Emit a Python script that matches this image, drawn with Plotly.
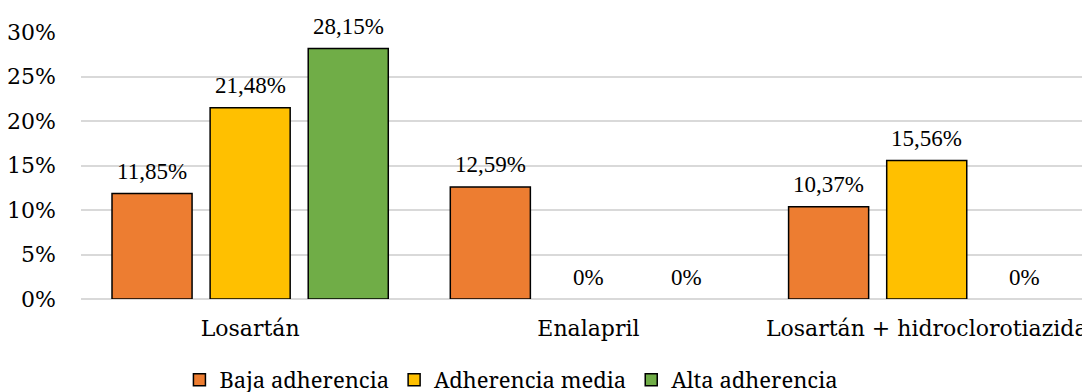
import plotly.graph_objects as go

# Antihypertensive drug groups and adherence levels (share of patients)
categories = ["Losartán", "Enalapril", "Losartán + hidroclorotiazida"]
series_names = ["Baja adherencia", "Adherencia media", "Alta adherencia"]
baja = [0.1185, 0.1259, 0.1037]
media = [0.2148, 0.0, 0.1556]
alta = [0.2815, 0.0, 0.0]
series_colors = ["#ED7D31", "#FFC000", "#70AD47"]

TICK_FONT = "DejaVu Serif"
LEGEND_FONT = "Noto Serif"
LABEL_FONT = "serif"

# Geometry of the plotting area and bar grouping
W, H = 1082, 392
MARGIN = dict(l=81, r=0, t=32, b=93)
X_RANGE = [-0.5, 2.459]
BARGAP = 0.13
BARGROUPGAP = 0.184


def pct_label(v):
    s = f"{v * 100:.2f}".replace(".", ",")
    if v == 0:
        s = "0"
    return s + "%"


series = [baja, media, alta]
n_series = len(series)
px_per_cat = (W - MARGIN["l"] - MARGIN["r"]) / (X_RANGE[1] - X_RANGE[0])
slot_px = (1 - BARGAP) * px_per_cat / n_series

fig = go.Figure()
annotations = []
for i, (name, vals, color) in enumerate(zip(series_names, series, series_colors)):
    fig.add_trace(go.Bar(
        x=categories,
        y=vals,
        name=name,
        marker=dict(
            color=color,
            # no outline on empty bars, so nothing shows at zero
            line=dict(color="#000000", width=[1.5 if v > 0 else 0 for v in vals]),
        ),
        hoverinfo="skip",
    ))
    # value labels above each bar of this series
    for cat, v in zip(categories, vals):
        annotations.append(dict(
            x=cat, y=v, xref="x", yref="y",
            text=pct_label(v),
            showarrow=False,
            xshift=(i - (n_series - 1) / 2) * slot_px,
            yshift=22,
            yanchor="middle",
            font=dict(family=LABEL_FONT, size=23, color="#000000"),
        ))

fig.update_layout(
    width=W,
    height=H,
    margin=dict(**MARGIN, autoexpand=False),
    paper_bgcolor="#FFFFFF",
    plot_bgcolor="#FFFFFF",
    barmode="group",
    bargap=BARGAP,
    bargroupgap=BARGROUPGAP,
    showlegend=True,
    legend=dict(
        orientation="h",
        x=0.43, xanchor="center",
        y=-0.303, yanchor="middle",
        font=dict(family=LEGEND_FONT, size=22, color="#000000"),
        itemwidth=30,
        traceorder="normal",
    ),
    annotations=annotations,
)

fig.update_xaxes(
    range=X_RANGE,
    showgrid=False,
    showline=False,
    zeroline=False,
    ticks="",
    ticklabelstandoff=14,
    tickfont=dict(family=TICK_FONT, size=22, color="#000000"),
)
fig.update_yaxes(
    range=[0, 0.30],
    tickvals=[0, 0.05, 0.10, 0.15, 0.20, 0.25, 0.30],
    tickformat=".0%",
    showgrid=True,
    gridcolor="#D9D9D9",
    gridwidth=1.5,
    zeroline=True,
    zerolinecolor="#D9D9D9",
    zerolinewidth=1.5,
    showline=False,
    ticks="",
    ticklabelstandoff=24,
    tickfont=dict(family=TICK_FONT, size=22, color="#000000"),
)

fig.write_html("out.html")
